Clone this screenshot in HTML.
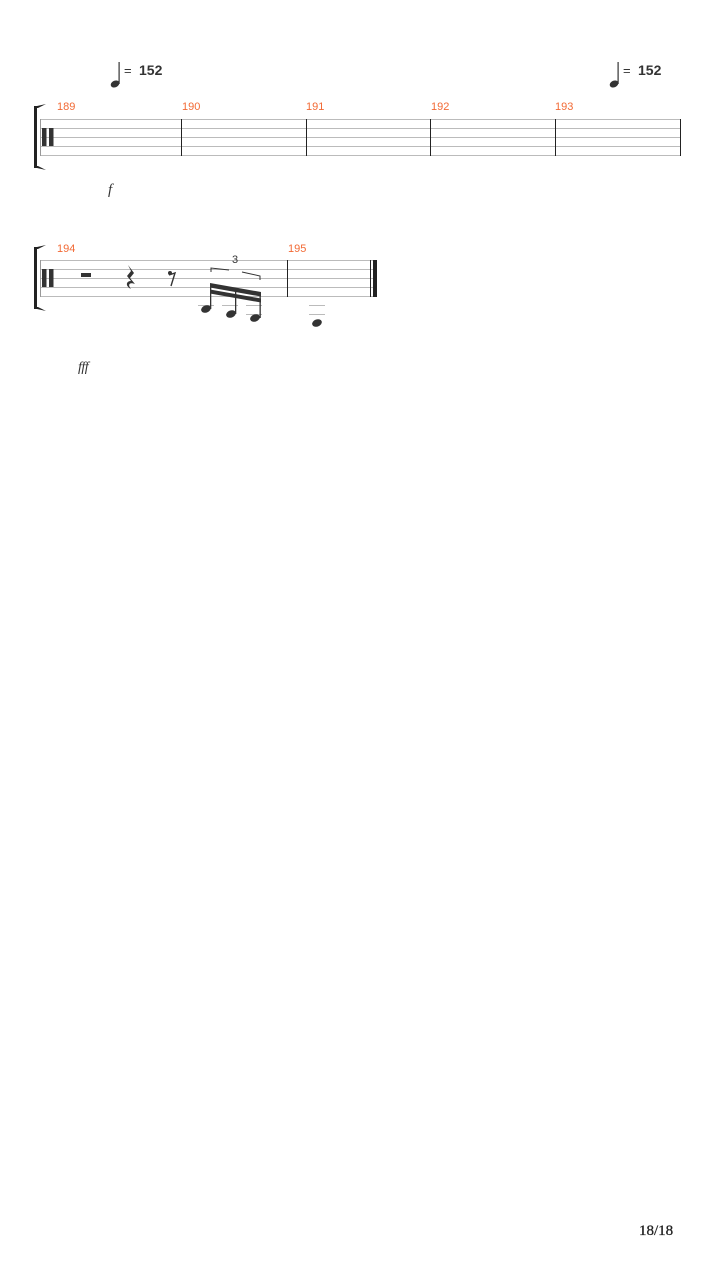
<!DOCTYPE html>
<html><head><meta charset="utf-8"><style>
html,body{margin:0;padding:0;background:#fff;width:720px;height:1280px;overflow:hidden}
</style></head><body>
<svg width="720" height="1280" xmlns="http://www.w3.org/2000/svg" font-family="Liberation Sans, sans-serif">
<g fill="#333">
<ellipse cx="115" cy="84" rx="4.5" ry="3.3" transform="rotate(-25 115 84)"/>
<rect x="118.5" y="62" width="1.2" height="22"/>
<text x="124" y="75" font-size="13">=</text>
<text x="139" y="75" font-size="14" font-weight="bold">152</text>
<ellipse cx="614" cy="84" rx="4.5" ry="3.3" transform="rotate(-25 614 84)"/>
<rect x="617.5" y="62" width="1.2" height="22"/>
<text x="623" y="75" font-size="13">=</text>
<text x="638" y="75" font-size="14" font-weight="bold">152</text>
</g>
<g stroke="#bbb" stroke-width="1">
<line x1="40" y1="119.5" x2="680" y2="119.5"/><line x1="40" y1="128.5" x2="680" y2="128.5"/>
<line x1="40" y1="137.5" x2="680" y2="137.5"/><line x1="40" y1="146.5" x2="680" y2="146.5"/>
<line x1="40" y1="155.5" x2="680" y2="155.5"/>
</g>
<g stroke="#222" stroke-width="1">
<line x1="181.5" y1="119" x2="181.5" y2="156"/><line x1="306.5" y1="119" x2="306.5" y2="156"/>
<line x1="430.5" y1="119" x2="430.5" y2="156"/><line x1="555.5" y1="119" x2="555.5" y2="156"/>
<line x1="680.5" y1="119" x2="680.5" y2="156"/>
</g>
<line x1="40.5" y1="119" x2="40.5" y2="156" stroke="#999"/>
<path d="M34 106 L34 168 L37 168 L46 170 L38 166 L37 166 L37 108 L38 108 L46 104 L37 106 Z" fill="#222"/>
<rect x="42" y="128" width="4.5" height="18" fill="#333"/><rect x="49" y="128" width="4.5" height="18" fill="#333"/>
<g fill="#f26a35" font-size="11">
<text x="57" y="110">189</text><text x="182" y="110">190</text><text x="306" y="110">191</text>
<text x="431" y="110">192</text><text x="555" y="110">193</text>
</g>
<text x="108" y="194" font-size="15" font-style="italic" font-family="Liberation Serif, serif" fill="#333">f</text>
<g stroke="#bbb" stroke-width="1">
<line x1="40" y1="260.5" x2="376" y2="260.5"/><line x1="40" y1="269.5" x2="376" y2="269.5"/>
<line x1="40" y1="278.5" x2="376" y2="278.5"/><line x1="40" y1="287.5" x2="376" y2="287.5"/>
<line x1="40" y1="296.5" x2="376" y2="296.5"/>
<line x1="198" y1="305.5" x2="214" y2="305.5"/><line x1="222" y1="305.5" x2="238" y2="305.5"/>
<line x1="246" y1="305.5" x2="262" y2="305.5"/><line x1="246" y1="314.5" x2="262" y2="314.5"/>
<line x1="309" y1="305.5" x2="325" y2="305.5"/><line x1="309" y1="314.5" x2="325" y2="314.5"/>
</g>
<line x1="40.5" y1="260" x2="40.5" y2="297" stroke="#999"/>
<line x1="287.5" y1="260" x2="287.5" y2="297" stroke="#222"/>
<line x1="370.5" y1="260" x2="370.5" y2="297" stroke="#222"/>
<rect x="373" y="260" width="4" height="37" fill="#222"/>
<path d="M34 247 L34 309 L37 309 L46 311 L38 307 L37 307 L37 249 L38 249 L46 245 L37 247 Z" fill="#222"/>
<rect x="42" y="269" width="4.5" height="18" fill="#333"/><rect x="49" y="269" width="4.5" height="18" fill="#333"/>
<g fill="#f26a35" font-size="11">
<text x="57" y="252">194</text><text x="288" y="252">195</text>
</g>
<rect x="81" y="273" width="10" height="4" fill="#333"/>
<path d="M128 265 L134 273 L130 278 L135 284 C130 282 127 284 131 289 C125 286 126 281 131 281 L127 276 L131 271 Z" fill="#333"/>
<circle cx="170" cy="273" r="2" fill="#333"/>
<path d="M169 275 L175 273 L171 286" stroke="#333" stroke-width="1.4" fill="none"/>
<path d="M211 272 L211 268 L229 270" stroke="#333" fill="none"/>
<path d="M242 272 L260 276 L260 280" stroke="#333" fill="none"/>
<text x="232" y="263" font-size="11" fill="#333">3</text>
<g fill="#333">
<ellipse cx="206" cy="309" rx="5" ry="3.6" transform="rotate(-20 206 309)"/>
<ellipse cx="231" cy="314" rx="5" ry="3.6" transform="rotate(-20 231 314)"/>
<ellipse cx="255" cy="318" rx="5" ry="3.6" transform="rotate(-20 255 318)"/>
<ellipse cx="317" cy="323" rx="5" ry="3.6" transform="rotate(-20 317 323)"/>
<rect x="210" y="284" width="1.3" height="25"/>
<rect x="235" y="288" width="1.3" height="26"/>
<rect x="259.5" y="292" width="1.3" height="26"/>
<path d="M210 283 L261 292 L261 296.5 L210 287.5 Z"/>
<path d="M210 289.5 L261 298.5 L261 302.5 L210 293.5 Z"/>
</g>
<text x="78" y="371" font-size="14" font-style="italic" font-family="Liberation Serif, serif" fill="#333" letter-spacing="-0.5">fff</text>
<text x="639" y="1235" font-size="15" font-family="Liberation Serif, serif" fill="#222" stroke="#222" stroke-width="0.3">18/18</text>
</svg>
</body></html>
